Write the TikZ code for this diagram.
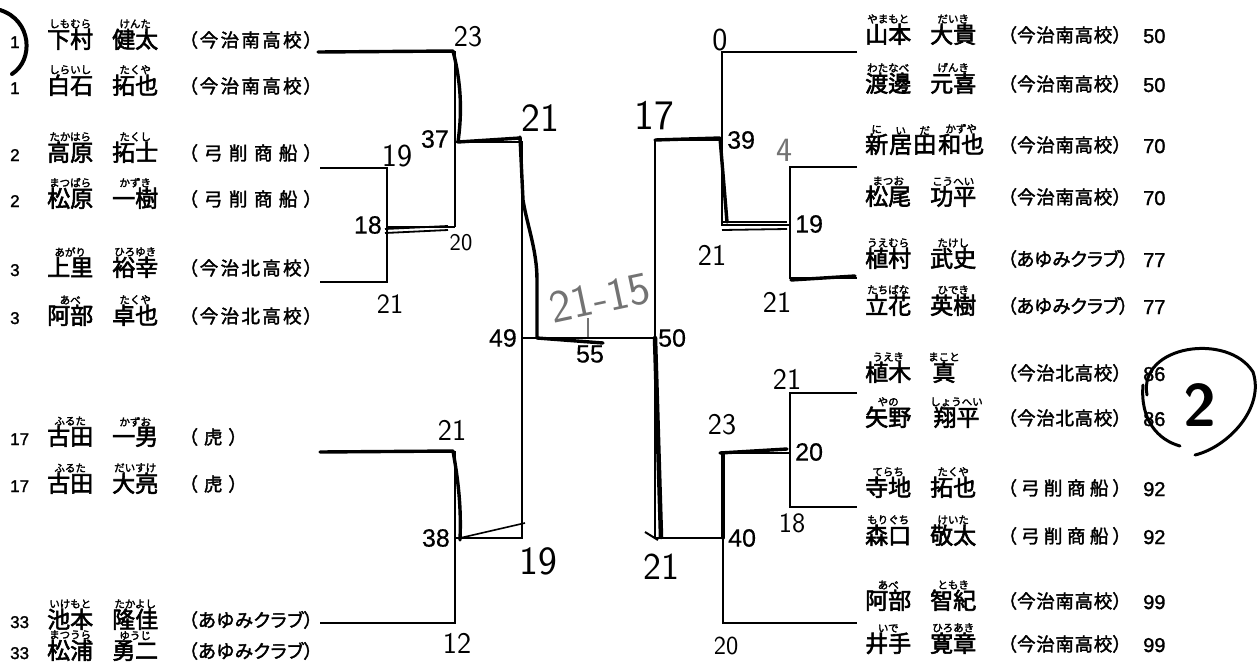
\documentclass[tikz,border=0pt]{standalone}
\usepackage{fontspec}
\newfontfamily\jp{Noto Sans CJK JP}[FakeBold=2.5]
\newfontfamily\jpp{Noto Sans CJK JP}[RawFeature=+palt,FakeBold=2]
\newfontfamily\nf{Liberation Sans}[FakeBold=1.5]
\newfontfamily\nfp{Liberation Sans}[FakeBold=0.5]
\newcommand\fs[1]{\fontsize{#1}{#1}\selectfont}
\newcommand\rb[2]{\leavevmode\vbox{\offinterlineskip\halign{\hfil##\hfil\cr{\fs{10.5}#2}\cr\noalign{\kern0.3pt}#1\cr}}}
\newcommand\Sminami{（\hfil 今\hfil 治\hfil 南\hfil 高\hfil 校\hfil ）}
\newcommand\Skita{（\hfil 今\hfil 治\hfil 北\hfil 高\hfil 校\hfil ）}
\newcommand\Syuge{（\hfil 弓\hfil 削\hfil 商\hfil 船\hfil ）}
\newcommand\Sayumi{（\hfil あ\hfil ゆ\hfil み\hfil ク\hfil ラ\hfil ブ\hfil ）}
\newcommand\Stora{（\hfil 虎\hfil ）}
\newcommand\Lrow[6]{%
  \node[sd] (#1s) at (10,#2+8) {#3};
  \node[nm] (#1n) at (47,#2+8) {#4};
  \node[sch] (#1c) at (188,#2+7) {\makebox[#5][s]{#6}};}
\newcommand\Rrow[5]{%
  \node[nm] (#1n) at (865,#2+8) {#3};
  \node[sch] (#1c) at (1007,#2+7) {\makebox[115pt][s]{#4}};
  \node[rn] (#1r) at (1143,#2+8) {#5};}
\begin{document}
\begin{tikzpicture}[x=1pt,y=-1pt,
  br/.style={line width=1.6pt},
  pen/.style={line width=3.4pt,line cap=round,line join=round},
  nm/.style={anchor=base west,inner sep=0pt,font=\jp\fs{23}},
  sch/.style={anchor=base west,inner sep=0pt,font=\jpp\fs{18.5}},
  sd/.style={anchor=base west,inner sep=0pt,font=\nf\fs{17}},
  rn/.style={anchor=base west,inner sep=0pt,font=\nf\fs{20}},
  pn/.style={inner sep=0pt,font=\nfp\fs{25}},
  hw/.style={inner sep=0pt,font=\sffamily\fs{#1}},
  hwg/.style={hw=#1,text=black!55}]
\fill[white] (0,0) rectangle (1259,667);
\path[use as bounding box] (0,0) rectangle (1259,667);

% ---------- left entries ----------
\Lrow{L1}{40}{1}{\rb{下村}{しもむら}\hspace{19pt}\rb{健太}{けんた}}{125pt}{\Sminami}
\Lrow{L2}{86}{1}{\rb{白石}{しらいし}\hspace{19pt}\rb{拓也}{たくや}}{125pt}{\Sminami}
\Lrow{L3}{153}{2}{\rb{高原}{たかはら}\hspace{19pt}\rb{拓士}{たくし}}{125pt}{\Syuge}
\Lrow{L4}{199}{2}{\rb{松原}{まつばら}\hspace{19pt}\rb{一樹}{かずき}}{125pt}{\Syuge}
\Lrow{L5}{268}{3}{\rb{上里}{あがり}\hspace{19pt}\rb{裕幸}{ひろゆき}}{125pt}{\Skita}
\Lrow{L6}{316}{3}{\rb{阿部}{あべ}\hspace{19pt}\rb{卓也}{たくや}}{125pt}{\Skita}
\Lrow{L7}{437}{17}{\rb{古田}{ふるた}\hspace{19pt}\rb{一男}{かずお}}{50pt}{\Stora}
\Lrow{L8}{484}{17}{\rb{古田}{ふるた}\hspace{19pt}\rb{大亮}{だいすけ}}{50pt}{\Stora}
\Lrow{L9}{620}{33}{\rb{池本}{いけもと}\hspace{19pt}\rb{隆佳}{たかよし}}{125pt}{\Sayumi}
\Lrow{L10}{651}{33}{\rb{松浦}{まつうら}\hspace{19pt}\rb{勇二}{ゆうじ}}{125pt}{\Sayumi}

% ---------- right entries ----------
\Rrow{R1}{35}{\rb{山本}{やまもと}\hspace{19pt}\rb{大貴}{だいき}}{\Sminami}{50}
\Rrow{R2}{84}{\rb{渡邊}{わたなべ}\hspace{19pt}\rb{元喜}{げんき}}{\Sminami}{50}
\Rrow{R3}{145}{\rb{新}{に}\hspace{1pt}\rb{居}{い}\hspace{1pt}\rb{田}{だ}\hspace{2pt}\rb{和也}{かずや}}{\Sminami}{70}
\Rrow{R4}{197}{\rb{松尾}{まつお}\hspace{19pt}\rb{功平}{こうへい}}{\Sminami}{70}
\Rrow{R5}{259}{\rb{植村}{うえむら}\hspace{19pt}\rb{武史}{たけし}}{\Sayumi}{77}
\Rrow{R6}{306}{\rb{立花}{たちばな}\hspace{19pt}\rb{英樹}{ひでき}}{\Sayumi}{77}
\Rrow{R7}{373}{\rb{植木}{うえき}\hspace{17pt}\rb{真}{まこと}}{\Skita}{86}
\Rrow{R8}{418}{\rb{矢野}{やの}\hspace{19pt}\rb{翔平}{しょうへい}}{\Skita}{86}
\Rrow{R9}{488}{\rb{寺地}{てらち}\hspace{19pt}\rb{拓也}{たくや}}{\Syuge}{92}
\Rrow{R10}{536}{\rb{森口}{もりぐち}\hspace{19pt}\rb{敬太}{けいた}}{\Syuge}{92}
\Rrow{R11}{601}{\rb{阿部}{あべ}\hspace{19pt}\rb{智紀}{ともき}}{\Sminami}{99}
\Rrow{R12}{644}{\rb{井手}{いで}\hspace{19pt}\rb{寛章}{ひろあき}}{\Sminami}{99}

% ---------- bracket coordinates ----------
\coordinate (a1) at (318,52);  \coordinate (a2) at (455,52);
\coordinate (b1) at (320,168); \coordinate (b2) at (387,168);
\coordinate (c1) at (320,282); \coordinate (c2) at (387,282);
\coordinate (j18) at (387,227); \coordinate (m18) at (455,227);
\coordinate (j37) at (455,142); \coordinate (t37) at (522,142);
\coordinate (j49) at (522,338);
\coordinate (d1) at (320,452); \coordinate (d2) at (455,452);
\coordinate (e1) at (320,623); \coordinate (e2) at (455,623);
\coordinate (j38) at (455,538); \coordinate (t38) at (522,538);
\coordinate (j50) at (655,338);
\coordinate (r39) at (655,140); \coordinate (j39) at (722,140);
\coordinate (f1) at (857,52);  \coordinate (f2) at (722,52);
\coordinate (j19) at (790,225); \coordinate (m19) at (722,225);
\coordinate (g1) at (857,167); \coordinate (g2) at (790,167);
\coordinate (h1) at (857,278); \coordinate (h2) at (790,278);
\coordinate (j40) at (723,538); \coordinate (r40) at (655,538);
\coordinate (i1) at (857,393); \coordinate (i2) at (790,393);
\coordinate (k1) at (857,507); \coordinate (k2) at (790,507);
\coordinate (j20) at (790,453); \coordinate (m20) at (723,453);
\coordinate (l1) at (857,623); \coordinate (l2) at (723,623);

% ---------- printed bracket ----------
\draw[br] (a1) -- (a2) -- (m18);
\draw[br] (b1) -- (b2) -- (c2) -- (c1);
\draw[br] (j18) -- (m18);
\draw[br] (j37) -- (t37) -- (t38) -- (j38);
\draw[br] (d1) -- (d2) -- (e2) -- (e1);
\draw[br] (j49) -- (j50);
\draw[br] (r39) -- (r40);
\draw[br] (r39) -- (j39);
\draw[br] (f1) -- (f2) -- (m19) -- (j19);
\draw[br] (g1) -- (g2) -- (h2) -- (h1);
\draw[br] (r40) -- (j40);
\draw[br] (m20) -- (l2) -- (l1);
\draw[br] (m20) -- (j20);
\draw[br] (i1) -- (i2) -- (k2) -- (k1);

% ---------- printed scores ----------
\node[pn,anchor=east] (p37) at (449,139) {37};
\node[pn,anchor=east] (p18) at (382,225) {18};
\node[pn,anchor=east] (p49) at (517,338) {49};
\node[pn] (p55) at (590,354) {55};
\node[pn,anchor=west] (p50) at (658,338) {50};
\node[pn,anchor=west] (p39) at (727,140) {39};
\node[pn,anchor=west] (p19) at (795,224) {19};
\node[pn,anchor=west] (p20) at (795,452) {20};
\node[pn,anchor=west] (p40) at (728,538) {40};
\node[pn,anchor=east] (p38) at (450,538) {38};

% ---------- pen tracing ----------
\draw[pen] (a1) -- (453,51) .. controls (463,90) and (461,120) .. (458,142) -- (520,138);
\draw[pen] (520,137) -- (523,200) .. controls (527,225) and (537,250) .. (537,280) -- (537,338) -- (603,343);
\draw[line width=1.8pt] (385,229) -- (448,226);
\draw[line width=1.8pt] (385,233) -- (448,230);
\draw[pen] (d1) -- (453,451) .. controls (460,490) and (461,515) .. (460,540);
\draw[br] (460,538) -- (525,523);
\draw[pen] (r39) -- (720,138) -- (727,222);
\draw[line width=1.8pt] (722,222) -- (787,222);
\draw[line width=1.8pt] (722,230) -- (787,229);
\draw[pen] (791,280) -- (855,276);
\draw[line width=4.5pt,line cap=round] (655,338) -- (661,537);
\draw[line width=2pt] (645,532) -- (658,540);
\draw[pen] (m20) -- (j40);
\draw[pen] (720,453) -- (787,449);
\draw[line width=2.5pt] (i2) -- (i1);
\draw[line width=2.5pt] (i2) -- (j20);

% ---------- handwritten notes ----------
\node[hw=30] (hA) at (468,37) {23};
\node[hw=40] (hB) at (540,118) {21};
\node[hw=42] (hC) at (654,116) {17};
\node[hw=32] (hD) at (397,156) {19};
\node[hw=24] (hE) at (461,243) {20};
\node[hw=28] (hF) at (390,304) {21};
\node[hwg=46,rotate=12] (hG) at (600,298) {21-15};
\draw[black!55,line width=1.5pt] (588,318) -- (588,337);
\node[hw=30] (hH) at (452,430) {21};
\node[hw=40] (hI) at (538,561) {19};
\node[hw=30] (hJ) at (457,643) {12};
\node[hw=32] (hK) at (720,40) {0};
\node[hwg=34] (hL) at (784,150) {4};
\node[hw=30] (hM) at (712,255) {21};
\node[hw=30] (hN) at (777,302) {21};
\node[hw=30] (hO) at (787,379) {21};
\node[hw=30] (hP) at (722,425) {23};
\node[hw=28] (hQ) at (792,523) {18};
\node[hw=38] (hR) at (661,567) {21};
\node[hw=26] (hS) at (726,646) {20};
\node[inner sep=0pt,font=\sffamily\bfseries\fs{60}] (hT) at (1200,405) {2};
\draw[line width=3pt,line cap=round] (1147,395) .. controls (1138,345) and (1228,332) .. (1253,372) .. controls (1265,408) and (1228,447) .. (1195,455);
\draw[line width=3pt,line cap=round] (1143,385) .. controls (1140,420) and (1158,440) .. (1180,446);
\draw[line width=4pt,line cap=round] (0,10) .. controls (32,20) and (34,60) .. (12,74);
\end{tikzpicture}
\end{document}
